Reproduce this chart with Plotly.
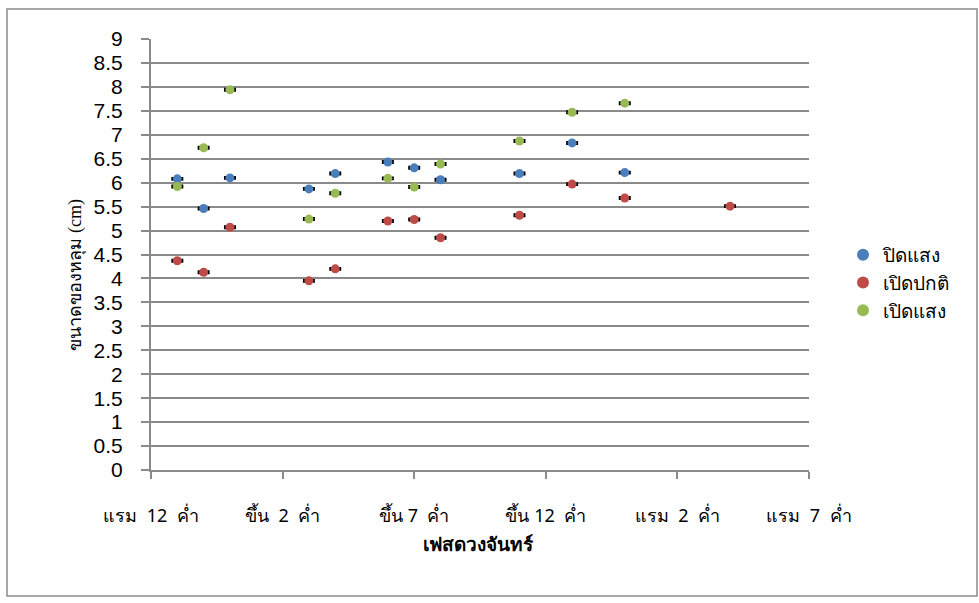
import plotly.graph_objects as go

# x positions (day index along lunar phase axis)
x_blue = [1, 2, 3, 6, 7, 9, 10, 11, 14, 16, 18]
y_blue = [6.08, 5.46, 6.10, 5.87, 6.19, 6.43, 6.31, 6.06, 6.19, 6.83, 6.21]

x_red = [1, 2, 3, 6, 7, 9, 10, 11, 14, 16, 18, 22]
y_red = [4.37, 4.13, 5.07, 3.95, 4.20, 5.20, 5.23, 4.85, 5.32, 5.97, 5.68, 5.51]

x_green = [1, 2, 3, 6, 7, 9, 10, 11, 14, 16, 18]
y_green = [5.92, 6.73, 7.94, 5.24, 5.78, 6.09, 5.91, 6.39, 6.87, 7.47, 7.66]

series_names = ["ปิดแสง", "เปิดปกติ", "เปิดแสง"]
series_colors = ["#4a7ebb", "#be4b48", "#98b954"]

tick_vals = [0, 5, 10, 15, 20, 25]
tick_text = ["แรม  12  ค่ำ", "ขึ้น  2  ค่ำ", "ขึ้น 7  ค่ำ", "ขึ้น 12  ค่ำ", "แรม  2  ค่ำ", "แรม  7  ค่ำ"]

y_ticks = [i * 0.5 for i in range(19)]
y_text = [("%g" % v) for v in y_ticks]

W, H = 979, 603
L, R, T, B = 151, 170, 39, 133
pw = W - L - R
ph = H - T - B

fig = go.Figure()
for xs, ys, name, col in [(x_blue, y_blue, series_names[0], series_colors[0]),
                          (x_red, y_red, series_names[1], series_colors[1]),
                          (x_green, y_green, series_names[2], series_colors[2])]:
    fig.add_trace(go.Scatter(
        x=xs, y=ys, mode="markers", name=name,
        marker=dict(color=col, size=9, line=dict(width=0)),
        error_y=dict(type="constant", value=0.02, color="black", thickness=2, width=6),
    ))

grid_col = "#8a8a8a"
fig.update_layout(
    width=W, height=H,
    margin=dict(l=L, r=R, t=T, b=B),
    paper_bgcolor="white", plot_bgcolor="white",
    showlegend=True,
    legend=dict(x=(843 - L) / pw, y=(470 - 236) / ph, xanchor="left", yanchor="top",
                font=dict(family="Noto Sans, sans-serif", size=19, color="#000"),
                itemsizing="constant", tracegroupgap=0, bgcolor="rgba(0,0,0,0)"),
    font=dict(family="Noto Sans, sans-serif", color="#000"),
)
fig.update_xaxes(
    range=[0, 25], tickmode="array", tickvals=tick_vals, ticktext=tick_text,
    showgrid=False, zeroline=False, showline=True, linecolor=grid_col, linewidth=2,
    ticks="outside", ticklen=7, tickwidth=2, tickcolor=grid_col,
    tickfont=dict(size=18, color="#000"), ticklabelstandoff=21,
)
fig.update_yaxes(
    range=[0, 9], tickmode="array", tickvals=y_ticks, ticktext=y_text,
    showgrid=True, gridcolor=grid_col, gridwidth=2, zeroline=False,
    showline=True, linecolor=grid_col, linewidth=2,
    ticks="outside", ticklen=8, tickwidth=2, tickcolor=grid_col,
    tickfont=dict(family="Liberation Sans, sans-serif", size=21, color="#000"),
    ticklabelstandoff=14,
)
fig.add_annotation(text="ขนาดของหลุม (cm)", xref="paper", yref="paper",
                   x=(62 - L) / pw, y=(470 - 275) / ph, showarrow=False, textangle=-90,
                   font=dict(family="Liberation Serif, serif", size=18, color="#000"))
fig.add_annotation(text="<b>เฟสดวงจันทร์</b>", xref="paper", yref="paper",
                   x=(478 - L) / pw, y=(470 - 557) / ph, showarrow=False,
                   font=dict(family="Liberation Serif, serif", size=19, color="#000"))
fig.add_shape(type="rect", xref="paper", yref="paper",
              x0=(7 - L) / pw, x1=(977 - L) / pw, y0=(470 - 596) / ph, y1=(470 - 9) / ph,
              line=dict(color="#8c8c8c", width=1.5), fillcolor="rgba(0,0,0,0)", layer="below")

fig.write_html("out.html")
